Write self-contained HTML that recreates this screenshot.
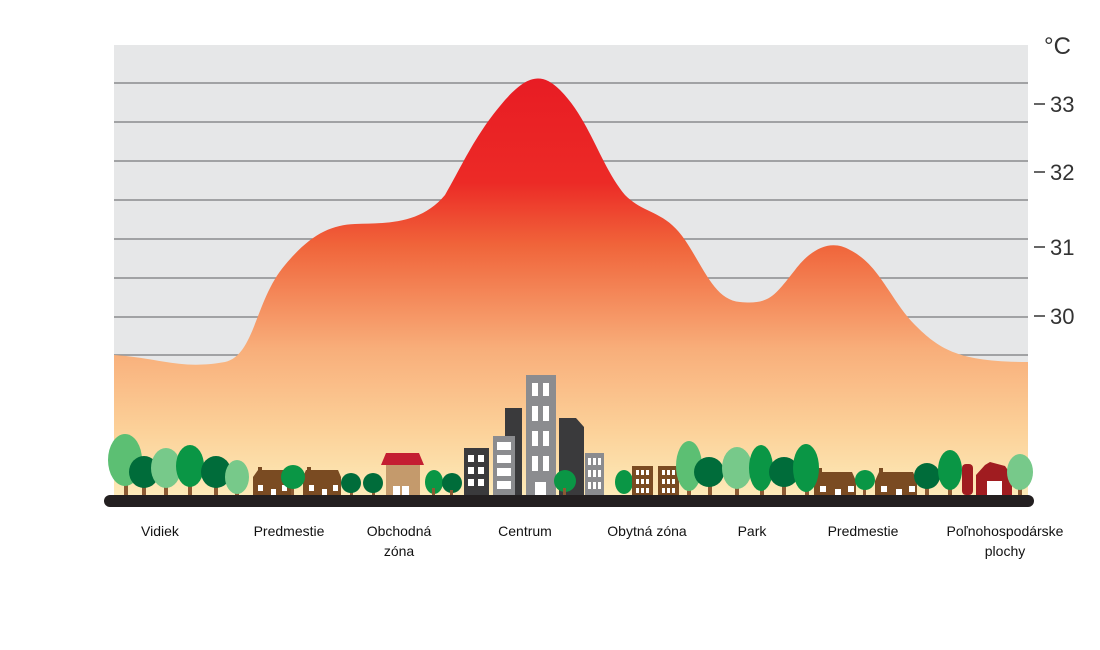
<!DOCTYPE html>
<html><head><meta charset="utf-8"><style>
body{margin:0;background:#fff;width:1100px;height:650px;overflow:hidden}
svg{display:block}
text{font-family:"Liberation Sans",sans-serif}
</style></head><body>
<svg width="1100" height="650" viewBox="0 0 1100 650">
<defs>
<linearGradient id="g" x1="0" y1="78" x2="0" y2="495" gradientUnits="userSpaceOnUse">
<stop offset="0" stop-color="#e81c24"/>
<stop offset="0.25" stop-color="#ec2a26"/>
<stop offset="0.4" stop-color="#f0643a"/>
<stop offset="0.65" stop-color="#f8ae7a"/>
<stop offset="0.85" stop-color="#fcd29a"/>
<stop offset="1" stop-color="#fdeab8"/>
</linearGradient>
</defs>
<rect x="114" y="45" width="914" height="450" fill="#e6e7e8"/>
<g stroke="#8a8b8e" stroke-width="1.5">
<line x1="114" y1="83" x2="1028" y2="83"/><line x1="114" y1="122" x2="1028" y2="122"/>
<line x1="114" y1="161" x2="1028" y2="161"/><line x1="114" y1="200" x2="1028" y2="200"/>
<line x1="114" y1="239" x2="1028" y2="239"/><line x1="114" y1="278" x2="1028" y2="278"/>
<line x1="114" y1="317" x2="1028" y2="317"/><line x1="114" y1="355" x2="1028" y2="355"/>
</g>
<path fill="url(#g)" d="M114 355 C160 358 180 370 225 362 C255 355 255 300 285 265 C310 235 330 225 355 224 C385 223 420 225 445 195 C465 160 475 135 505 100 C525 78 540 70 560 90 C590 120 600 165 625 195 C645 215 665 210 685 240 C705 270 715 300 740 302 C770 305 775 295 795 270 C810 250 830 238 850 250 C880 265 890 300 915 325 C940 350 960 362 1028 362 L1028 495 L114 495 Z"/>
<!-- axis ticks -->
<g stroke="#333" stroke-width="1.5">
<line x1="1034" y1="104" x2="1045" y2="104"/><line x1="1034" y1="172" x2="1045" y2="172"/>
<line x1="1034" y1="247" x2="1045" y2="247"/><line x1="1034" y1="316" x2="1045" y2="316"/>
</g>
<g font-size="22" fill="#333">
<text x="1050" y="112">33</text><text x="1050" y="180">32</text>
<text x="1050" y="255">31</text><text x="1050" y="324">30</text>
<text x="1044" y="54" font-size="24">°C</text>
</g>
<!-- trees left -->
<g>
<rect x="124" y="480" width="4" height="15" fill="#8b5a33"/><ellipse cx="125" cy="460" rx="17" ry="26" fill="#5cbf73"/>
<rect x="142" y="480" width="4" height="15" fill="#8b5a33"/><ellipse cx="144" cy="472" rx="15" ry="16" fill="#006c3a"/>
<rect x="164" y="480" width="4" height="15" fill="#8b5a33"/><ellipse cx="166" cy="468" rx="15" ry="20" fill="#77c98a"/>
<rect x="188" y="480" width="4" height="15" fill="#8b5a33"/><ellipse cx="190" cy="466" rx="14" ry="21" fill="#0a9645"/>
<rect x="214" y="480" width="4" height="15" fill="#8b5a33"/><ellipse cx="216" cy="472" rx="15" ry="16" fill="#006c3a"/>
<rect x="235" y="480" width="4" height="15" fill="#8b5a33"/><ellipse cx="237" cy="477" rx="12" ry="17" fill="#77c98a"/>
</g>
<!-- houses -->
<g fill="#7a4b22">
<rect x="253" y="477" width="40" height="18"/><polygon points="253,477 258,470 290,470 293,477"/><rect x="258" y="467" width="4" height="6"/>
<rect x="303" y="477" width="38" height="18"/><polygon points="303,477 306,470 338,470 341,477"/><rect x="307" y="467" width="4" height="6"/>
<rect x="814" y="481" width="42" height="14"/><polygon points="814,481 818,472 852,472 856,481"/><rect x="818" y="468" width="4" height="6"/>
<rect x="875" y="481" width="42" height="14"/><polygon points="875,481 879,472 913,472 917,481"/><rect x="879" y="468" width="4" height="6"/>
</g>
<g fill="#fff">
<rect x="258" y="485" width="5" height="6"/><rect x="271" y="489" width="5" height="6"/><rect x="282" y="485" width="5" height="6"/>
<rect x="309" y="485" width="5" height="6"/><rect x="322" y="489" width="5" height="6"/><rect x="333" y="485" width="5" height="6"/>
<rect x="820" y="486" width="6" height="6"/><rect x="835" y="489" width="6" height="6"/><rect x="848" y="486" width="6" height="6"/>
<rect x="881" y="486" width="6" height="6"/><rect x="896" y="489" width="6" height="6"/><rect x="909" y="486" width="6" height="6"/>
</g>
<rect x="291" y="478" width="3" height="17" fill="#8b5a33"/><circle cx="293" cy="477" r="12" fill="#0a9645"/>
<rect x="350" y="485" width="3" height="10" fill="#8b5a33"/><circle cx="351" cy="483" r="10" fill="#006c3a"/>
<rect x="372" y="485" width="3" height="10" fill="#8b5a33"/><circle cx="373" cy="483" r="10" fill="#006c3a"/>
<!-- shop -->
<rect x="386" y="465" width="34" height="30" fill="#c49a6c"/><polygon points="381,465 386,453 419,453 424,465" fill="#c41e32"/>
<rect x="393" y="486" width="7" height="9" fill="#fff"/><rect x="402" y="486" width="7" height="9" fill="#fff"/>
<ellipse cx="434" cy="482" rx="9" ry="12" fill="#0a9645"/><rect x="432" y="488" width="3" height="7" fill="#8b5a33"/>
<circle cx="452" cy="483" r="10" fill="#006c3a"/><rect x="450" y="490" width="3" height="5" fill="#8b5a33"/>
<!-- buildings -->
<rect x="464" y="448" width="25" height="47" fill="#3a3a3c"/>
<g fill="#fff"><rect x="468" y="455" width="6" height="7"/><rect x="478" y="455" width="6" height="7"/><rect x="468" y="467" width="6" height="7"/><rect x="478" y="467" width="6" height="7"/><rect x="468" y="479" width="6" height="7"/><rect x="478" y="479" width="6" height="7"/></g>
<rect x="505" y="408" width="17" height="87" fill="#3a3a3c"/>
<rect x="493" y="436" width="22" height="59" fill="#8b8c8f"/>
<g fill="#fff"><rect x="497" y="442" width="14" height="8"/><rect x="497" y="455" width="14" height="8"/><rect x="497" y="468" width="14" height="8"/><rect x="497" y="481" width="14" height="8"/></g>
<polygon points="559,418 576,418 584,427 584,495 559,495" fill="#3a3a3c"/>
<rect x="526" y="375" width="30" height="120" fill="#8b8c8f"/>
<g fill="#fff"><rect x="532" y="383" width="6" height="13"/><rect x="543" y="383" width="6" height="13"/><rect x="532" y="406" width="6" height="15"/><rect x="543" y="406" width="6" height="15"/><rect x="532" y="431" width="6" height="15"/><rect x="543" y="431" width="6" height="15"/><rect x="532" y="456" width="6" height="15"/><rect x="543" y="456" width="6" height="15"/><rect x="535" y="482" width="11" height="13"/></g>
<circle cx="565" cy="481" r="11" fill="#0a9645"/><rect x="563" y="488" width="3" height="7" fill="#8b5a33"/>
<rect x="585" y="453" width="19" height="42" fill="#8b8c8f"/>
<g fill="#fff"><rect x="588" y="458" width="3" height="7"/><rect x="593" y="458" width="3" height="7"/><rect x="598" y="458" width="3" height="7"/><rect x="588" y="470" width="3" height="7"/><rect x="593" y="470" width="3" height="7"/><rect x="598" y="470" width="3" height="7"/><rect x="588" y="482" width="3" height="7"/><rect x="593" y="482" width="3" height="7"/><rect x="598" y="482" width="3" height="7"/></g>
<!-- right side -->
<ellipse cx="624" cy="482" rx="9" ry="12" fill="#0a9645"/>
<rect x="632" y="466" width="21" height="29" fill="#7a4b22"/><rect x="658" y="466" width="21" height="29" fill="#7a4b22"/>
<g fill="#fff"><rect x="636" y="470" width="3" height="5"/><rect x="641" y="470" width="3" height="5"/><rect x="646" y="470" width="3" height="5"/><rect x="636" y="479" width="3" height="5"/><rect x="641" y="479" width="3" height="5"/><rect x="646" y="479" width="3" height="5"/><rect x="636" y="488" width="3" height="5"/><rect x="641" y="488" width="3" height="5"/><rect x="646" y="488" width="3" height="5"/>
<rect x="662" y="470" width="3" height="5"/><rect x="667" y="470" width="3" height="5"/><rect x="672" y="470" width="3" height="5"/><rect x="662" y="479" width="3" height="5"/><rect x="667" y="479" width="3" height="5"/><rect x="672" y="479" width="3" height="5"/><rect x="662" y="488" width="3" height="5"/><rect x="667" y="488" width="3" height="5"/><rect x="672" y="488" width="3" height="5"/></g>
<g fill="#8b5a33"><rect x="687" y="480" width="4" height="15"/><rect x="708" y="480" width="4" height="15"/><rect x="735" y="480" width="4" height="15"/><rect x="760" y="480" width="4" height="15"/><rect x="782" y="480" width="4" height="15"/><rect x="805" y="480" width="4" height="15"/><rect x="863" y="485" width="3" height="10"/><rect x="925" y="480" width="4" height="15"/><rect x="948" y="480" width="4" height="15"/><rect x="1018" y="480" width="4" height="15"/></g>
<ellipse cx="689" cy="466" rx="13" ry="25" fill="#5cbf73"/>
<circle cx="709" cy="472" r="15" fill="#006c3a"/>
<ellipse cx="737" cy="468" rx="15" ry="21" fill="#77c98a"/>
<ellipse cx="761" cy="468" rx="12" ry="23" fill="#0a9645"/>
<circle cx="784" cy="472" r="15" fill="#006c3a"/>
<ellipse cx="806" cy="468" rx="13" ry="24" fill="#0a9645"/>
<circle cx="865" cy="480" r="10" fill="#0a9645"/>
<circle cx="927" cy="476" r="13" fill="#006c3a"/>
<ellipse cx="950" cy="470" rx="12" ry="20" fill="#0a9645"/>
<rect x="962" y="464" width="11" height="31" rx="4" fill="#a01c20"/>
<path d="M976 495 L976 475 L985 465 L990 462 L1005 466 L1012 476 L1012 495 Z" fill="#a01c20"/>
<rect x="987" y="481" width="15" height="14" fill="#fff"/>
<ellipse cx="1020" cy="472" rx="13" ry="18" fill="#77c98a"/>
<rect x="104" y="495" width="930" height="12" rx="6" fill="#231f20"/>
<g font-size="14" fill="#111" text-anchor="middle">
<text x="160" y="536">Vidiek</text>
<text x="289" y="536">Predmestie</text>
<text x="399" y="536">Obchodná</text><text x="399" y="556">zóna</text>
<text x="525" y="536">Centrum</text>
<text x="647" y="536">Obytná zóna</text>
<text x="752" y="536">Park</text>
<text x="863" y="536">Predmestie</text>
<text x="1005" y="536">Poľnohospodárske</text><text x="1005" y="556">plochy</text>
</g>
</svg>
</body></html>
